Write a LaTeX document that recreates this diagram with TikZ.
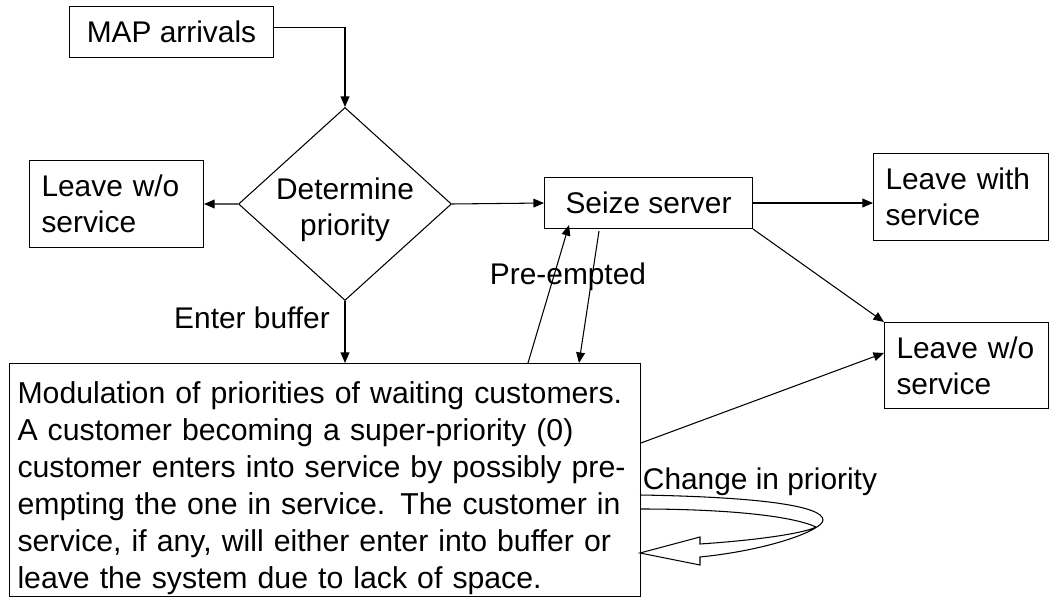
\documentclass[tikz,border=0pt]{standalone}
\usepackage{fontspec}
\setmainfont{Liberation Sans}
\usetikzlibrary{shapes.geometric,arrows.meta,calc}
\begin{document}
\begin{tikzpicture}[x=0.02cm,y=-0.02cm,
  every node/.style={font=\fontsize{17}{20.5}\selectfont},
  box/.style={draw, line width=0.6pt, anchor=north west, inner sep=0pt, align=left},
  cbox/.style={draw, line width=0.6pt, anchor=north west, inner sep=0pt, align=center},
  arr/.style={-{Triangle[length=6pt,width=5pt]}, line width=0.6pt},
  lab/.style={inner sep=0pt}]
\useasboundingbox (0,0) rectangle (1049,597);
% ring arrow (change in priority)
\draw[line width=0.6pt, fill=white] (640,495) .. controls (760,497) and (823,506) .. (823,520)
  .. controls (823,530) and (770,550) .. (700,557) -- (700,565) -- (640,553) -- (700,537) -- (700,544)
  .. controls (760,540) and (805,533) .. (816,527)
  .. controls (790,515) and (720,509) .. (640,509);
% nodes
\node[cbox, minimum width=4.08cm, minimum height=1.02cm] (map) at (69,6) {MAP arrivals};
\node[draw, diamond, line width=0.6pt, minimum width=4.26cm, minimum height=3.86cm, inner sep=0pt] (dia) at (345,204) {};
\node[lab, align=center] (diatext) at (345,210) {Determine\\priority};
\node[box, minimum width=3.48cm, minimum height=1.74cm, text width=3.0cm, inner xsep=0.24cm] (lwl) at (29,160) {Leave w/o\\service};
\node[cbox, minimum width=4.16cm, minimum height=1.02cm] (seize) at (544,177) {Seize server};
\node[box, minimum width=3.5cm, minimum height=1.74cm, text width=3.02cm, inner xsep=0.24cm] (lws) at (873,153) {Leave with\\service};
\node[box, minimum width=3.28cm, minimum height=1.72cm, text width=2.8cm, inner xsep=0.24cm] (lwo) at (884,322) {Leave w/o\\service};
\node[box, minimum width=12.62cm, minimum height=4.66cm, text width=12.3cm, inner xsep=0.16cm,
      font=\fontsize{17.2}{21}\selectfont] (big) at (9,363)
  {\rule{0pt}{22pt}\mbox{Modulation of priorities of waiting customers.}\\
   \mbox{A customer becoming a super-priority (0)}\\
   \mbox{customer enters into service by possibly pre-}\\
   \mbox{empting the one in service. The customer in}\\
   \mbox{service, if any, will either enter into buffer or}\\
   \mbox{leave the system due to lack of space.}};
% labels
\node[lab] (lenter) at (252,318) {Enter buffer};
\node[lab] (lpre) at (568,277) {Pre-empted};
\node[lab] (lchg) at (760,482) {Change in priority};
% connectors
\draw[arr] ([yshift=0.09cm]map.east) -| (dia.north);
\draw[arr] (dia.west) -- (lwl.east);
\draw[arr] (dia.east) -- (seize.west);
\draw[arr] (seize.east) -- (seize.east -| lws.west);
\draw[arr] (seize.south east) -- (lwo.north west);
\draw[arr] (dia.south) -- (dia.south |- big.north);
\coordinate (pu1) at ($(big.north west)+(519,0)$);
\coordinate (pu2) at ($(seize.south west)+(25,-4)$);
\draw[arr] (pu1) -- (pu2);
\coordinate (pd1) at ($(seize.south west)+(55,2)$);
\coordinate (pd2) at ($(big.north west)+(570,0)$);
\draw[arr] (pd1) -- (pd2);
\coordinate (bo) at ($(big.north east)+(0,80)$);
\coordinate (wi) at ($(lwo.north west)+(0,31)$);
\draw[arr] (bo) -- (wi);
\end{tikzpicture}
\end{document}
